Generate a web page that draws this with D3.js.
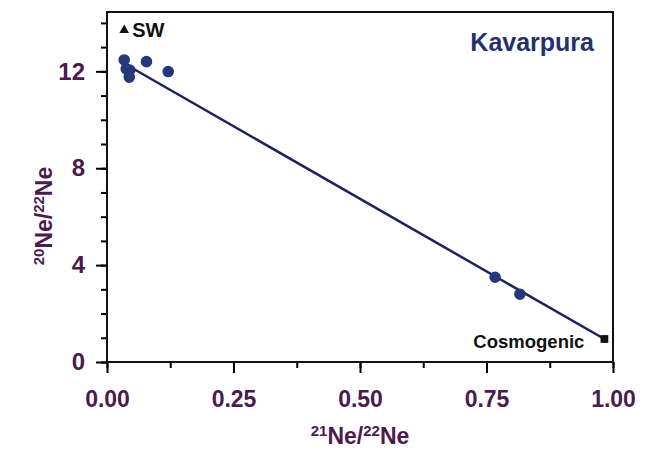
<!DOCTYPE html>
<html>
<head>
<meta charset="utf-8">
<script src="https://cdn.jsdelivr.net/npm/d3@7"></script>
<style>
body { margin: 0; background: #fff; }
text { font-family: "Liberation Sans", Arial, sans-serif; font-weight: bold; }
</style>
</head>
<body>
<div id="chart"></div>
<script>
var w = 651,
    h = 456;

// measured Ne isotope ratios
var ne21 = [0.034, 0.038, 0.045, 0.044, 0.078, 0.121, 0.767, 0.816];
var ne20 = [12.47, 12.1, 12.05, 11.76, 12.4, 11.99, 3.5, 2.8];

// end members
var endLabels = ["SW", "Cosmogenic"];
var end21 = [0.034, 0.983];
var end20 = [13.7, 0.95];

// mixing line
var line21 = [0.04, 0.983];
var line20 = [12.25, 0.95];

var xTicks = [0, 0.25, 0.5, 0.75, 1];
var yTicks = [0, 4, 8, 12];

var m = {left: 107, right: 38, top: 12, bottom: 94};

var x = d3.scaleLinear().domain([0, 1]).range([m.left, w - m.right]);
var y = d3.scaleLinear().domain([0, 14.45]).range([h - m.bottom, m.top]);

var svg = d3.select("#chart")
    .append("svg")
    .attr("width", w)
    .attr("height", h);

var purple = "#4b1a4e";
var navy = "#1d215c";

// minor ticks
svg.append("g")
    .attr("transform", "translate(0," + y(0) + ")")
    .call(d3.axisBottom(x).tickValues(d3.range(0, 1.01, 0.125)).tickSize(6).tickFormat(""))
    .call(function(g) { g.select(".domain").remove(); g.selectAll("line").attr("stroke-width", 2); });

svg.append("g")
    .attr("transform", "translate(" + x(0) + ",0)")
    .call(d3.axisLeft(y).tickValues(d3.range(0, 14.5, 1)).tickSize(6).tickFormat(""))
    .call(function(g) { g.select(".domain").remove(); g.selectAll("line").attr("stroke-width", 2); });

// major ticks
var xAxis = svg.append("g")
    .attr("transform", "translate(0," + y(0) + ")")
    .call(d3.axisBottom(x).tickValues(xTicks).tickSize(11).tickPadding(18).tickFormat(d3.format(".2f")));
xAxis.select(".domain").remove();
xAxis.selectAll("line").attr("stroke-width", 2);
xAxis.selectAll("text").attr("font-size", "23px").attr("fill", purple);

var yAxis = svg.append("g")
    .attr("transform", "translate(" + x(0) + ",0)")
    .call(d3.axisLeft(y).tickValues(yTicks).tickSize(11).tickPadding(11));
yAxis.select(".domain").remove();
yAxis.selectAll("line").attr("stroke-width", 2);
yAxis.selectAll("text").attr("font-size", "24px").attr("fill", purple);

// frame
svg.append("rect")
    .attr("x", x(0))
    .attr("y", y(14.45))
    .attr("width", x(1) - x(0))
    .attr("height", y(0) - y(14.45))
    .attr("fill", "none")
    .attr("stroke", "#111")
    .attr("stroke-width", 2);

// mixing line
svg.append("line")
    .attr("x1", x(line21[0])).attr("y1", y(line20[0]))
    .attr("x2", x(line21[1])).attr("y2", y(line20[1]))
    .attr("stroke", navy)
    .attr("stroke-width", 2.5);

// data points
svg.selectAll(".pt")
    .data(ne21)
    .enter()
    .append("path")
    .attr("class", "pt")
    .attr("transform", function(d, i) { return "translate(" + x(d) + "," + y(ne20[i]) + ")"; })
    .attr("d", d3.symbol().type(d3.symbolCircle).size(105))
    .attr("fill", "#24387a");

// SW triangle
svg.append("path")
    .attr("transform", "translate(" + x(end21[0]) + "," + y(end20[0]) + ")")
    .attr("d", d3.symbol().type(d3.symbolTriangle).size(40))
    .attr("fill", "#111");
svg.append("text")
    .attr("x", x(end21[0]) + 8)
    .attr("y", y(end20[0]) + 7)
    .attr("font-size", "20px")
    .attr("fill", "#111")
    .text(endLabels[0]);

// Cosmogenic square
svg.append("path")
    .attr("transform", "translate(" + x(end21[1]) + "," + y(end20[1]) + ")")
    .attr("d", d3.symbol().type(d3.symbolSquare).size(60))
    .attr("fill", "#111");
svg.append("text")
    .attr("x", x(end21[1]) - 20)
    .attr("y", y(end20[1]) + 9)
    .attr("text-anchor", "end")
    .attr("font-size", "18.5px")
    .attr("fill", "#111")
    .text(endLabels[1]);

// title
svg.append("text")
    .attr("x", 594)
    .attr("y", 51)
    .attr("text-anchor", "end")
    .attr("font-size", "25px")
    .attr("fill", "#26306e")
    .text("Kavarpura");

// axis labels
var xl = svg.append("text")
    .attr("x", 360)
    .attr("y", 444)
    .attr("text-anchor", "middle")
    .attr("font-size", "23px")
    .attr("fill", purple);
xl.append("tspan").attr("font-size", "15px").attr("dy", "-8").text("21");
xl.append("tspan").attr("dy", "8").text("Ne/");
xl.append("tspan").attr("font-size", "15px").attr("dy", "-8").text("22");
xl.append("tspan").attr("dy", "8").text("Ne");

var yl = svg.append("text")
    .attr("transform", "translate(52,216) rotate(-90)")
    .attr("text-anchor", "middle")
    .attr("font-size", "23px")
    .attr("fill", purple);
yl.append("tspan").attr("font-size", "15px").attr("dy", "-8").text("20");
yl.append("tspan").attr("dy", "8").text("Ne/");
yl.append("tspan").attr("font-size", "15px").attr("dy", "-8").text("22");
yl.append("tspan").attr("dy", "8").text("Ne");
</script>
</body>
</html>
